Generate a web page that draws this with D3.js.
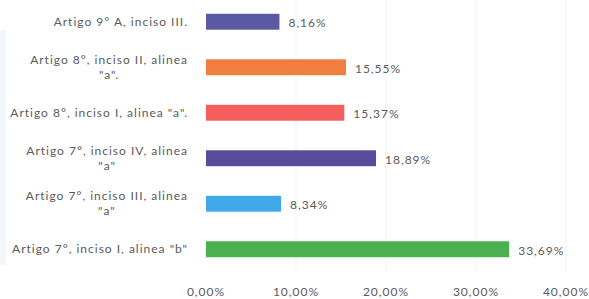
<!DOCTYPE html>
<html>
<head>
<meta charset="utf-8">
<script src="https://cdn.jsdelivr.net/npm/d3@7"></script>
<style>
  body { margin: 0; background: #fff; }
  text { font-family: Lato, "Open Sans", sans-serif; fill: #5a5a5a; letter-spacing: 1px; }
</style>
</head>
<body>
<svg width="589" height="299"></svg>
<script>
// categories top to bottom, each as its wrapped lines
var categories = [
    ['Artigo 9° A, inciso III.'],
    ['Artigo 8°, inciso II, alinea', '"a".'],
    ['Artigo 8°, inciso I, alinea "a".'],
    ['Artigo 7°, inciso IV, alinea', '"a"'],
    ['Artigo 7°, inciso III, alinea', '"a"'],
    ['Artigo 7°, inciso I, alinea "b"']
];
var values = [8.16, 15.55, 15.37, 18.89, 8.34, 33.69];
var ticks = [0, 10, 20, 30, 40];
var colors = ['#5b58a4', '#f07f3f', '#f45e5c', '#5a4c9c', '#3fa9ea', '#4bb04f'];

var svg = d3.select('svg');
var fmt = function (v) { return v.toFixed(2).replace('.', ',') + '%'; };

// faint tint on the left edge of the scan
svg.append('rect')
    .attr('x', 0).attr('y', 30)
    .attr('width', 6).attr('height', 235)
    .attr('fill', '#f2f7fb');

var x = d3.scaleLinear()
    .domain([0, 40])
    .range([206, 566]);

var y = d3.scaleBand()
    .domain(d3.range(categories.length))
    .range([-1, 272])
    .paddingInner(0.65)
    .paddingOuter(0.325);

// faint gridlines
svg.selectAll('.grid')
    .data(ticks.slice(1))
    .enter().append('line')
    .attr('x1', function (d) { return x(d); })
    .attr('x2', function (d) { return x(d); })
    .attr('y1', 0)
    .attr('y2', 272)
    .attr('stroke', '#f3f3f3');

svg.selectAll('.bar')
    .data(values)
    .enter().append('rect')
    .attr('x', x(0))
    .attr('y', function (d, i) { return y(i); })
    .attr('width', function (d) { return x(d) - x(0); })
    .attr('height', y.bandwidth())
    .attr('fill', function (d, i) { return colors[i]; });

svg.selectAll('.val')
    .data(values)
    .enter().append('text')
    .attr('x', function (d) { return x(d) + 9; })
    .attr('y', function (d, i) { return y(i) + y.bandwidth() / 2; })
    .attr('dy', '0.45em')
    .style('font-size', '12px')
    .text(fmt);

var cats = svg.selectAll('.cat')
    .data(categories)
    .enter().append('g')
    .attr('transform', function (d, i) {
        return 'translate(0,' + (y(i) + y.bandwidth() / 2) + ')';
    });

cats.each(function (lines) {
    var g = d3.select(this);
    var lh = 15;
    var widest = 0;
    var t = g.selectAll('text')
        .data(lines)
        .enter().append('text')
        .attr('y', function (d, k) { return (k - (lines.length - 1) / 2) * lh; })
        .attr('dy', '0.35em')
        .attr('text-anchor', 'middle')
        .style('font-size', '12px')
        .text(function (d) { return d; });
    t.each(function () { widest = Math.max(widest, this.getComputedTextLength()); });
    t.attr('x', 188 - widest / 2);
});

svg.selectAll('.tick')
    .data(ticks)
    .enter().append('text')
    .attr('x', function (d) { return x(d); })
    .attr('y', 296)
    .attr('text-anchor', 'middle')
    .style('font-size', '12px')
    .text(function (d) { return fmt(d); });
</script>
</body>
</html>
